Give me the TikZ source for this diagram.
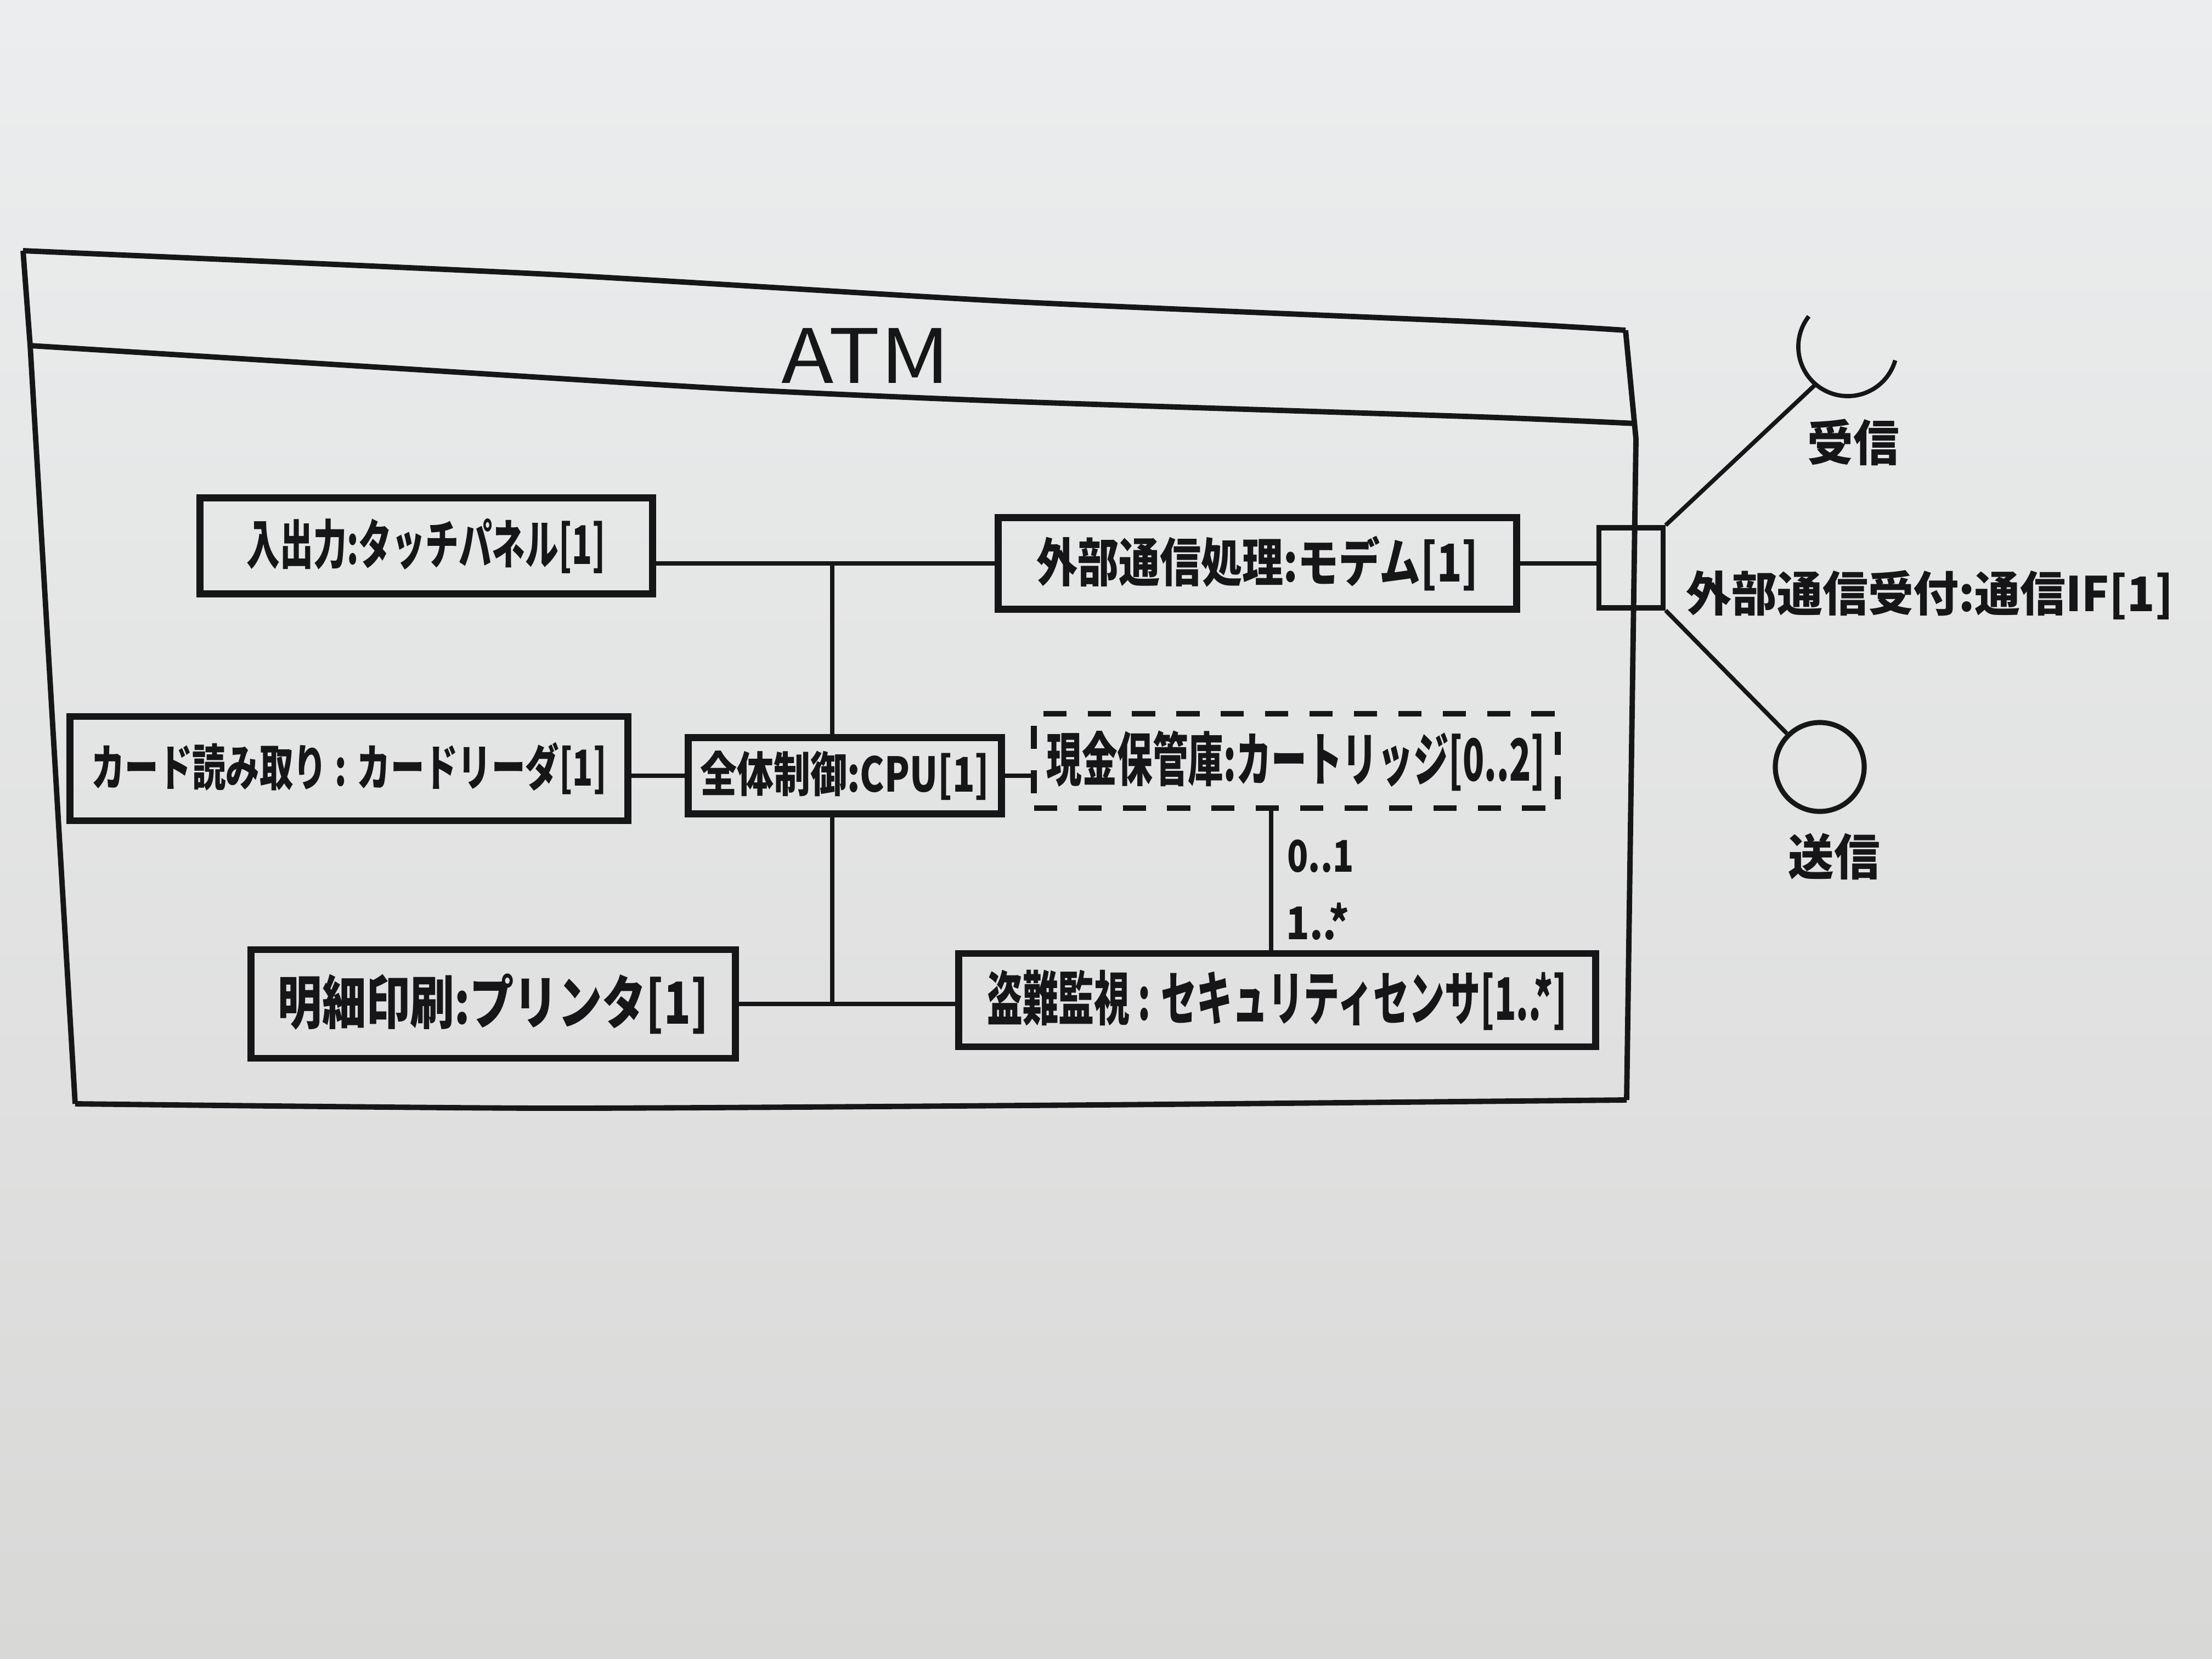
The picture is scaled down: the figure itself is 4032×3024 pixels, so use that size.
\documentclass[tikz,border=0pt]{standalone}
\usepackage{fontspec}
\setmainfont{Noto Sans CJK JP}
\usepackage{graphicx}
\usetikzlibrary{calc}
\definecolor{ink}{RGB}{22,22,24}
\definecolor{boardtop}{RGB}{236,237,238}
\definecolor{boardbot}{RGB}{216,217,215}
\newcommand{\hw}[3]{\resizebox*{#1}{#2}{#3}}
\tikzset{
  umlbox/.style={draw=ink, line width=3.6pt, inner sep=0pt, rectangle, text=ink},
  dashbox/.style={draw=ink, line width=3pt, dash pattern=on 12pt off 11pt, inner sep=0pt, rectangle, text=ink},
  conn/.style={draw=ink, line width=2.2pt},
  frame/.style={draw=ink, line width=2.8pt, line join=round},
  lbl/.style={inner sep=0pt, text=ink},
  portbox/.style={draw=ink, line width=2.6pt, inner sep=0pt, rectangle},
  ball/.style={draw=ink, line width=2.6pt, circle, inner sep=0pt}
}
\begin{document}
\begin{tikzpicture}[x=0.01cm,y=0.01cm]
\useasboundingbox (0,0) rectangle (4032,-3024);
\shade[top color=boardtop,bottom color=boardbot] (0,0) rectangle (4032,-3024);

% outer frame of ATM
\draw[frame] plot[smooth, tension=0.4] coordinates {(42,-457) (1000,-500) (1850,-550) (2700,-587) (2963,-602)};
\draw[frame] (2963,-602) -- (2982,-800) -- (2965,-2005);
\draw[frame] plot[smooth, tension=0.4] coordinates {(2965,-2005) (2000,-2014) (1000,-2020) (137,-2012)};
\draw[frame] (137,-2012) -- (55,-630) -- (42,-457);
\draw[frame] plot[smooth, tension=0.4] coordinates {(55,-630) (700,-670) (1350,-710) (1850,-732) (2700,-760) (2982,-772)};
\node[lbl] (atm) at (1578,-648) {\hw{3.07cm}{1.0cm}{ATM}};

% parts
\node[umlbox, minimum width=8.25cm, minimum height=1.75cm] (touch) at (777,-995)
  {\hw{6.54cm}{1.0cm}{\bfseries 入出力:タッチパネル[1]}};
\node[umlbox, minimum width=9.44cm, minimum height=1.67cm] (modem) at (2292,-1027)
  {\hw{8.05cm}{1.0cm}{\bfseries 外部通信処理:モデム[1]}};
\node[umlbox, minimum width=10.16cm, minimum height=1.9cm] (card) at (636,-1401)
  {\hw{9.39cm}{0.95cm}{\bfseries カード読み取り : カードリーダ[1]}};
\node[umlbox, minimum width=5.71cm, minimum height=1.39cm] (cpu) at (1540,-1414)
  {\hw{5.27cm}{0.9cm}{\bfseries 全体制御:CPU[1]}};
\node[dashbox, minimum width=9.54cm, minimum height=1.72cm] (cart) at (2362,-1387)
  {\hw{9.08cm}{1.1cm}{\bfseries 現金保管庫:カートリッジ[0..2]}};
\node[umlbox, minimum width=8.82cm, minimum height=1.98cm] (printer) at (899,-1830)
  {\hw{7.84cm}{1.1cm}{\bfseries 明細印刷:プリンタ[1]}};
\node[umlbox, minimum width=11.6cm, minimum height=1.7cm] (sensor) at (2328,-1823)
  {\hw{10.57cm}{1.1cm}{\bfseries 盗難監視 : セキュリティセンサ[1..*]}};

% port and interfaces
\node[portbox, minimum width=1.17cm, minimum height=1.46cm] (port) at (2973,-1035) {};
\node[lbl, anchor=west] (portlbl) at (3073,-1085)
  {\hw{8.87cm}{0.9cm}{\bfseries 外部通信受付:通信IF[1]}};
\coordinate (sockc) at (3368,-632);
\coordinate (sockj) at (3309,-701);
\draw[conn] (port.north east) -- (sockj);
\draw[conn] ($(sockc)+(142:0.9cm)$) arc[start angle=142, end angle=344, radius=0.9cm];
\node[lbl] (recv) at (3378,-806) {\hw{1.67cm}{0.85cm}{\bfseries 受信}};
\node[ball, minimum size=1.62cm] (sendball) at (3317,-1398) {};
\draw[conn] (port.south east) -- (sendball);
\node[lbl] (send) at (3343,-1561) {\hw{1.67cm}{0.85cm}{\bfseries 送信}};

% connectors
\coordinate (j1) at (1517,-1027);
\coordinate (j2) at (1517,-1828);
\coordinate (k) at (2317,-1387);
\draw[conn] (modem.west) -- (modem.west -| touch.east);
\draw[conn] (j1) -- (j1 |- cpu.north);
\draw[conn] (cpu.west) -- (cpu.west -| card.east);
\draw[conn] (cpu.east) -- (cpu.east -| cart.west);
\draw[conn] (j2 |- cpu.south) -- (j2);
\draw[conn] (printer.east) -- (printer.east -| sensor.west);
\draw[conn] (k |- cart.south) -- (k |- sensor.north);
\draw[conn] (modem.east) -- (modem.east -| port.west);

\node[lbl] (m01) at (2407,-1561) {\hw{1.21cm}{0.6cm}{\bfseries 0..1}};
\node[lbl] (m1s) at (2402,-1680) {\hw{1.15cm}{0.68cm}{\bfseries 1..*}};
\end{tikzpicture}
\end{document}
